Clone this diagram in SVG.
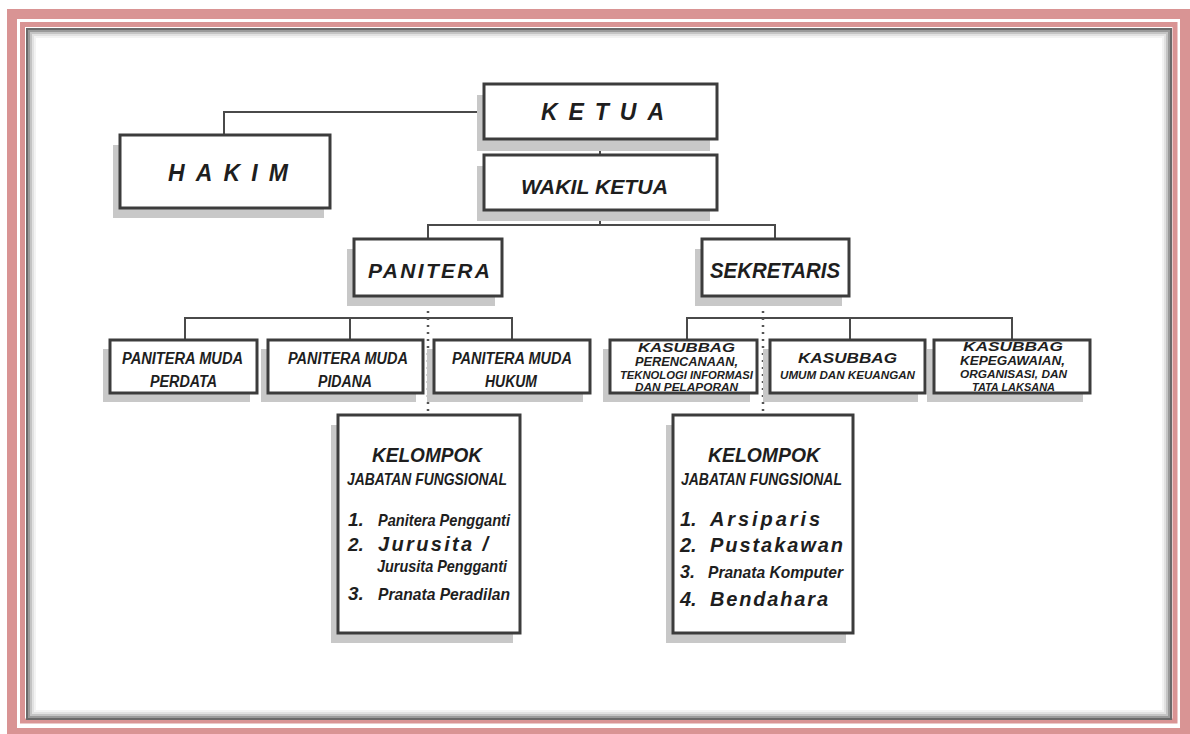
<svg xmlns="http://www.w3.org/2000/svg" width="1190" height="734" viewBox="0 0 1190 734">
<style>
.box{fill:#fff;stroke:#3c3c3c;stroke-width:3}
.sh{fill:#c8c8c8}
.ln{fill:none;stroke:#4a4a4a;stroke-width:2}
.dot{fill:none;stroke:#555;stroke-width:2.5;stroke-dasharray:2 5}
text{font-family:"Liberation Sans",Arial,sans-serif;font-weight:bold;font-style:italic;fill:#1e1e1e}
</style>
<rect x="0" y="0" width="1190" height="734" fill="#fff"/>
<g id="frame">
<rect x="12" y="14" width="1173" height="719" fill="none" stroke="#d99494" stroke-width="10"/>
<rect x="22.5" y="24.5" width="1152.5" height="696.5" fill="none" stroke="#d99494" stroke-width="5"/>
<rect x="26" y="28" width="1146" height="692" fill="#fff"/>
<rect x="27" y="29" width="1144" height="690" fill="none" stroke="#6a6a6a" stroke-width="2"/>
<rect x="29" y="31" width="1140" height="686" fill="none" stroke="#9a9a9a" stroke-width="2"/>
<rect x="31" y="33" width="1136" height="682" fill="none" stroke="#c4c4c4" stroke-width="2"/>
<rect x="33" y="35" width="1132" height="678" fill="none" stroke="#e2e2e2" stroke-width="2"/>
<rect x="35" y="37" width="1128" height="674" fill="none" stroke="#f3f3f3" stroke-width="2"/>
</g>
<g id="connectors">
<polyline class="ln" points="484,112 224,112 224,135"/>
<line class="ln" x1="600" y1="139" x2="600" y2="155"/>
<line class="ln" x1="600" y1="210" x2="600" y2="225"/>
<polyline class="ln" points="428,239 428,225 775,225 775,239"/>
<polyline class="ln" points="185,340 185,318 512,318 512,340"/>
<line class="ln" x1="350" y1="318" x2="350" y2="340"/>
<polyline class="ln" points="687,340 687,318 1012,318 1012,340"/>
<line class="ln" x1="850" y1="318" x2="850" y2="340"/>
<line class="dot" x1="428" y1="297" x2="428" y2="415"/>
<line class="dot" x1="763" y1="297" x2="763" y2="415"/>
</g>
<g id="ketua">
<rect class="sh" x="477" y="95" width="233" height="56"/>
<rect class="box" x="484" y="84" width="233" height="55"/>
<text x="541" y="120" font-size="23" textLength="123" lengthAdjust="spacing">KETUA</text>
</g>
<g id="hakim">
<rect class="sh" x="113" y="145" width="211" height="73"/>
<rect class="box" x="120" y="135" width="210" height="73"/>
<text x="168" y="181" font-size="23" textLength="120" lengthAdjust="spacing">HAKIM</text>
</g>
<g id="wakil">
<rect class="sh" x="477" y="166" width="233" height="55"/>
<rect class="box" x="484" y="155" width="233" height="55"/>
<text x="521" y="194" font-size="21" textLength="147" lengthAdjust="spacingAndGlyphs">WAKIL KETUA</text>
</g>
<g id="panitera">
<rect class="sh" x="347" y="249" width="148" height="57"/>
<rect class="box" x="354" y="239" width="148" height="57"/>
<text x="368" y="278" font-size="21" textLength="122" lengthAdjust="spacing">PANITERA</text>
</g>
<g id="sekretaris">
<rect class="sh" x="695" y="249" width="147" height="57"/>
<rect class="box" x="702" y="239" width="147" height="57"/>
<text x="710" y="278" font-size="22" textLength="130" lengthAdjust="spacingAndGlyphs">SEKRETARIS</text>
</g>
<g id="pm-perdata">
<rect class="sh" x="103" y="349" width="147" height="53"/>
<rect class="box" x="110" y="340" width="147" height="53"/>
<text x="122" y="364" font-size="16" textLength="121" lengthAdjust="spacingAndGlyphs">PANITERA MUDA</text>
<text x="150" y="387" font-size="16" textLength="67" lengthAdjust="spacingAndGlyphs">PERDATA</text>
</g>
<g id="pm-pidana">
<rect class="sh" x="261" y="349" width="155" height="53"/>
<rect class="box" x="268" y="340" width="155" height="53"/>
<text x="288" y="364" font-size="16" textLength="120" lengthAdjust="spacingAndGlyphs">PANITERA MUDA</text>
<text x="318" y="387" font-size="16" textLength="54" lengthAdjust="spacingAndGlyphs">PIDANA</text>
</g>
<g id="pm-hukum">
<rect class="sh" x="427" y="349" width="156" height="53"/>
<rect class="box" x="434" y="340" width="156" height="53"/>
<text x="452" y="364" font-size="16" textLength="120" lengthAdjust="spacingAndGlyphs">PANITERA MUDA</text>
<text x="485" y="387" font-size="16" textLength="52" lengthAdjust="spacingAndGlyphs">HUKUM</text>
</g>
<g id="ks-perencanaan">
<rect class="sh" x="603" y="349" width="147" height="53"/>
<rect class="box" x="610" y="340" width="147" height="53"/>
<text x="638" y="352" font-size="13" textLength="97" lengthAdjust="spacingAndGlyphs">KASUBBAG</text>
<text x="635" y="366" font-size="12" textLength="103" lengthAdjust="spacingAndGlyphs">PERENCANAAN,</text>
<text x="620" y="379" font-size="11" textLength="133" lengthAdjust="spacingAndGlyphs">TEKNOLOGI INFORMASI</text>
<text x="635" y="391" font-size="11" textLength="103" lengthAdjust="spacingAndGlyphs">DAN PELAPORAN</text>
</g>
<g id="ks-umum">
<rect class="sh" x="763" y="349" width="155" height="53"/>
<rect class="box" x="770" y="340" width="155" height="53"/>
<text x="798" y="363" font-size="14" textLength="99" lengthAdjust="spacingAndGlyphs">KASUBBAG</text>
<text x="780" y="379" font-size="11" textLength="135" lengthAdjust="spacingAndGlyphs">UMUM DAN KEUANGAN</text>
</g>
<g id="ks-kepegawaian">
<rect class="sh" x="927" y="349" width="156" height="53"/>
<rect class="box" x="934" y="340" width="156" height="53"/>
<text x="963" y="351" font-size="13" textLength="100" lengthAdjust="spacingAndGlyphs">KASUBBAG</text>
<text x="960" y="365" font-size="12" textLength="105" lengthAdjust="spacingAndGlyphs">KEPEGAWAIAN,</text>
<text x="960" y="378" font-size="11" textLength="107" lengthAdjust="spacingAndGlyphs">ORGANISASI, DAN</text>
<text x="972" y="391" font-size="11" textLength="83" lengthAdjust="spacingAndGlyphs">TATA LAKSANA</text>
</g>
<g id="kelompok-panitera">
<rect class="sh" x="331" y="425" width="182" height="218"/>
<rect class="box" x="338" y="415" width="182" height="218"/>
<text x="372" y="462" font-size="20" textLength="110" lengthAdjust="spacingAndGlyphs">KELOMPOK</text>
<text x="347" y="485" font-size="17" textLength="160" lengthAdjust="spacingAndGlyphs">JABATAN FUNGSIONAL</text>
<text x="348" y="526" font-size="19">1.</text>
<text x="378" y="526" font-size="17" textLength="132" lengthAdjust="spacingAndGlyphs">Panitera Pengganti</text>
<text x="348" y="551" font-size="19">2.</text>
<text x="378" y="551" font-size="20" textLength="110" lengthAdjust="spacing">Jurusita /</text>
<text x="377" y="572" font-size="17" textLength="130" lengthAdjust="spacingAndGlyphs">Jurusita Pengganti</text>
<text x="348" y="600" font-size="19">3.</text>
<text x="378" y="600" font-size="17" textLength="132" lengthAdjust="spacingAndGlyphs">Pranata Peradilan</text>
</g>
<g id="kelompok-sekretaris">
<rect class="sh" x="666" y="425" width="180" height="218"/>
<rect class="box" x="673" y="415" width="180" height="218"/>
<text x="708" y="462" font-size="20" textLength="112" lengthAdjust="spacingAndGlyphs">KELOMPOK</text>
<text x="681" y="485" font-size="17" textLength="161" lengthAdjust="spacingAndGlyphs">JABATAN FUNGSIONAL</text>
<text x="680" y="526" font-size="20">1.</text>
<text x="710" y="526" font-size="20" textLength="110" lengthAdjust="spacing">Arsiparis</text>
<text x="680" y="552" font-size="20">2.</text>
<text x="710" y="552" font-size="20" textLength="133" lengthAdjust="spacing">Pustakawan</text>
<text x="680" y="578" font-size="18">3.</text>
<text x="708" y="578" font-size="17" textLength="135" lengthAdjust="spacingAndGlyphs">Pranata Komputer</text>
<text x="680" y="606" font-size="20">4.</text>
<text x="710" y="606" font-size="20" textLength="118" lengthAdjust="spacing">Bendahara</text>
</g>
</svg>
